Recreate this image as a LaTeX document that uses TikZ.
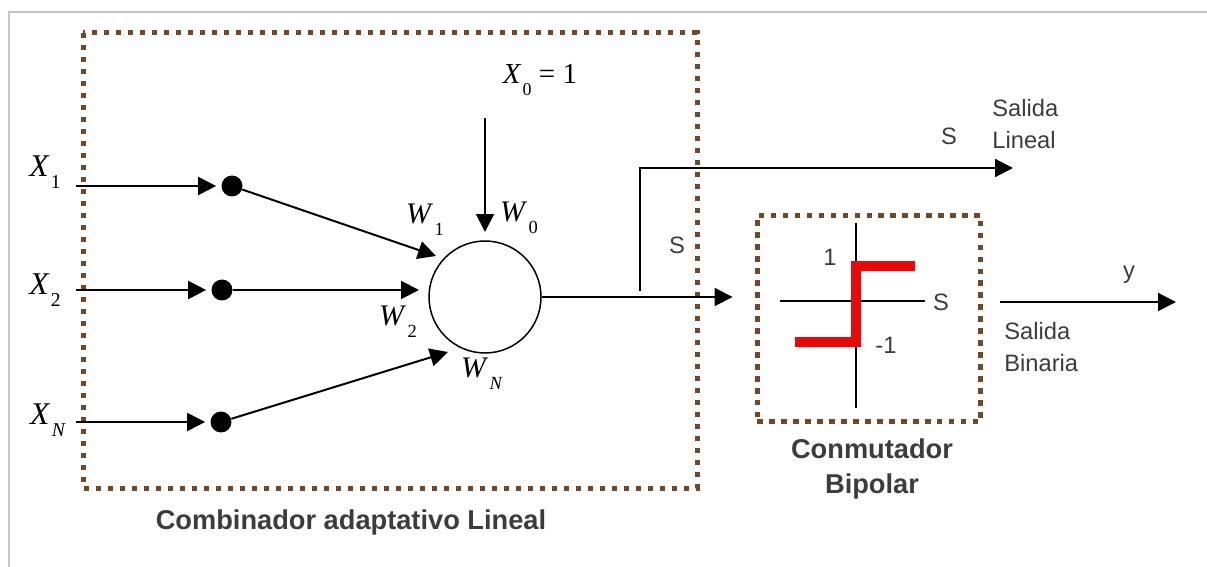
\documentclass[tikz,border=0pt]{standalone}
\usepackage{fontspec}
\setmainfont{Liberation Serif}
\setsansfont{Liberation Sans}
\usetikzlibrary{arrows.meta}
\definecolor{boxbrown}{RGB}{115,72,40}
\definecolor{labgray}{RGB}{60,60,60}
\definecolor{stepred}{RGB}{232,10,10}
\newcommand{\sbx}[2]{\textit{#1}\kern0.04em\raisebox{-0.4em}{\scalebox{0.62}{#2}}}

\begin{document}
\begin{tikzpicture}[x=0.02cm, y=-0.02cm,
    dotbox/.style={draw=boxbrown, line width=0.1cm, dash pattern=on 0.11cm off 0.13cm},
    conn/.style={line width=0.04cm},
    arr/.style={conn, -{Triangle[length=0.36cm,width=0.36cm]}},
    pt/.style={circle, fill=black, inner sep=0pt, minimum size=0.42cm},
    xlab/.style={font=\fontsize{18}{20}\selectfont, inner sep=0pt},
    wlab/.style={font=\fontsize{17}{19}\selectfont, inner sep=0pt},
    slab/.style={font=\sffamily\fontsize{13.5}{18}\selectfont, text=labgray, inner sep=0pt},
    blab/.style={font=\sffamily\bfseries\fontsize{15.5}{20}\selectfont, text=labgray, inner sep=0pt, align=center}]
\useasboundingbox (0,0) rectangle (1207,567);
\draw[gray!45, line width=0.04cm] (9,567) -- (9,12) -- (1207,12);

% adaptive linear combiner
\draw[dotbox] (83,33) rectangle (697,488);
\node[blab] (comb) at (351,522) {Combinador adaptativo Lineal};

\node[draw, circle, line width=0.03cm, minimum size=2.24cm] (sum) at (485,297) {};

\node[xlab] (x1) at (45,172) {\sbx{X}{1}};
\node[xlab] (x2) at (45,290) {\sbx{X}{2}};
\node[xlab] (xn) at (48,420) {\sbx{X}{\textit{N}}};
\coordinate (x1in) at (76,186);
\coordinate (x2in) at (76,290);
\coordinate (xnin) at (76,422);
\node[pt] (d1) at (232,186) {};
\node[pt] (d2) at (222,290) {};
\node[pt] (dn) at (221,422) {};
\foreach \i in {1,2,n}
  \draw[arr, shorten >=0.1cm] (x\i in) -- (d\i);

% weighted inputs
\coordinate (t1) at (436,256);
\coordinate (t2) at (419,290);
\coordinate (tn) at (448,352);
\foreach \i in {1,2,n}
  \draw[arr] (d\i) -- (t\i);

\node[xlab, font=\fontsize{16.5}{19}\selectfont] (x0) at (540,80) {\sbx{X}{0} = 1};
\coordinate (x0top) at (485,118);
\coordinate (t0) at (485,232);
\draw[arr] (x0top) -- (t0);

\node[wlab] (w1) at (425,220) {\sbx{W}{1}};
\node[wlab] (w0) at (519,218) {\sbx{W}{0}};
\node[wlab] (w2) at (398,322) {\sbx{W}{2}};
\node[wlab] (wn) at (482,374) {\sbx{W}{\textit{N}}};

% bipolar switch
\node[dotbox, minimum width=4.48cm, minimum height=4.14cm] (conm) at (869,318.5) {};
\node[blab] (conmlab) at (872,469) {Conmutador\\Bipolar};
\draw[line width=0.03cm] (780,301) -- (925,301);
\draw[line width=0.03cm] (856,223) -- (856,408);
\draw[stepred, line width=0.2cm] (795,342) -- (856,342) -- (856,266) -- (915,266);
\node[slab] (one) at (830,257) {1};
\node[slab] (mone) at (886,345) {-1};
\node[slab] (saxis) at (941,302) {S};

% outputs
\draw[arr, shorten >=0.44cm] (sum.east) -- (sum.east -| conm.west);
\coordinate (br) at (640,291);
\coordinate (linout) at (1013,168);
\draw[arr] (br) |- (linout);
\node[slab] (sbr) at (677,245) {S};
\node[slab] (slin) at (949,136) {S};
\node[slab, anchor=west, align=left] (salin) at (992,124) {Salida\\Lineal};

\coordinate (yout) at (1176,302);
\draw[arr, shorten <=0.34cm] (conm.east |- yout) -- (yout);
\node[slab] (ylab) at (1129,275) {y};
\node[slab, anchor=west, align=left] (sabin) at (1004,347) {Salida\\Binaria};
\end{tikzpicture}
\end{document}
